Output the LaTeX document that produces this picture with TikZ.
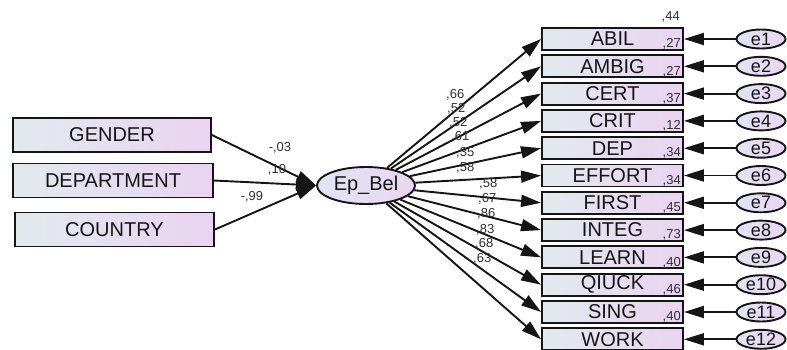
\documentclass[tikz,border=0pt]{standalone}
\usepackage{fontspec}
\setmainfont{Liberation Sans}
\usetikzlibrary{arrows.meta,shapes.geometric}
\definecolor{boxL}{HTML}{E2EAEE}
\definecolor{boxR}{HTML}{E9D3F1}
\definecolor{ellL}{HTML}{E0E4F2}
\definecolor{ellR}{HTML}{EAD6F2}
\definecolor{txt}{HTML}{151515}
\definecolor{num}{HTML}{303030}
\begin{document}
\begin{tikzpicture}[x=1pt,y=-1pt,
  obs/.style={draw=txt, line width=1.9pt, left color=boxL, right color=boxR,
    minimum height=22pt, minimum width=141pt, inner sep=0pt,
    font=\fontsize{20}{20}\selectfont, text=txt},
  lbox/.style={obs, minimum height=34pt},
  lat/.style={draw=txt, line width=1.9pt, ellipse, left color=ellL, right color=ellR,
    inner sep=0pt, font=\fontsize{20}{20}\selectfont, text=txt},
  err/.style={lat, minimum width=49pt, minimum height=19pt, font=\fontsize{18}{18}\selectfont},
  path/.style={draw=txt, line width=1.9pt, -{Triangle[length=20pt,width=12pt]}},
  lab/.style={font=\fontsize{13}{13}\selectfont, text=num, inner sep=0pt}
]
\path[use as bounding box] (0,0) rectangle (787,349);

% exogenous observed
\node[lbox, minimum width=198pt] (gender)  at (112,135)   {GENDER};
\node[lbox, minimum width=200pt] (dept)    at (113,180.5) {DEPARTMENT};
\node[lbox, minimum width=199pt] (country) at (114.5,229.5) {COUNTRY};

% latent
\node[lat, minimum width=98pt, minimum height=37pt] (ep) at (366,185.5) {Ep\_Bel};

% indicators and errors
\foreach \t [count=\i] in {ABIL,AMBIG,CERT,CRIT,DEP,EFFORT,FIRST,INTEG,LEARN,QIUCK,SING,WORK}{
  \node[obs] (o\i) at ({612.5},{39+27.3*(\i-1)}) {\t};
  \node[err] (e\i) at ({761},{39+27.3*(\i-1)}) {e\i};
  \draw[path] (e\i) -- (o\i);
  \draw[path] (ep) -- (o\i.west);
}

% regressions
\draw[path] (gender.east)  -- (ep.west);
\draw[path] (dept.east)    -- (ep.west);
\draw[path] (country.east) -- (ep.west);

\node[lab] (g1) at (280,148) {-,03};
\node[lab] (g2) at (277,170) {,10};
\node[lab] (g3) at (252,197) {-,99};

% loadings
\foreach \x/\y/\v [count=\k] in {446/95/66,447/109/52,449/123/52,451/137/61,456/153/35,456/168/58,
  479/184/58,478/199/67,477/214/86,476/230/83,475/244/68,473/259/63}{
  \node[lab, anchor=west] (l\k) at (\x,\y) {,\v};
}

% squared multiple correlations
\node[lab, anchor=east] (r0) at (680,17) {,44};
\foreach \r [count=\i] in {27,27,37,12,34,34,45,73,40,46,40}{
  \node[lab, anchor=east] (r\i) at ({681},{44+27.3*(\i-1)}) {,\r};
}
\end{tikzpicture}
\end{document}
